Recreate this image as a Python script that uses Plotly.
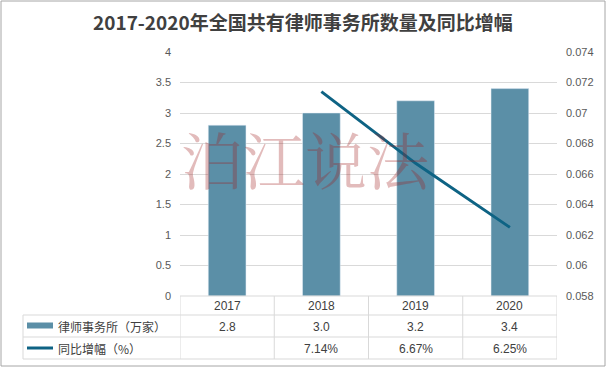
import plotly.graph_objects as go

years = ["2017", "2018", "2019", "2020"]
firms = [2.8, 3.0, 3.2, 3.4]            # 律师事务所（万家）
growth = [None, 7.14, 6.67, 6.25]       # 同比增幅（%）
left_ticks = [0, 0.5, 1, 1.5, 2, 2.5, 3, 3.5, 4]
right_ticks = [0.058, 0.06, 0.062, 0.064, 0.066, 0.068, 0.07, 0.072, 0.074]
title = "2017-2020年全国共有律师事务所数量及同比增幅"
series_names = ["律师事务所（万家）", "同比增幅（%）"]
watermark = "泊江说法"

W, H = 606, 367
L, R, T, B = 180, 557, 52, 296
BAR_C = "#5b8fa7"
LINE_C = "#0e6384"
GRID_C = "#d9d9d9"
TXT_C = "#404040"


def px(p):
    return (p - L) / (R - L)


def py(p):
    return (B - p) / (B - T)


fig = go.Figure()
fig.add_trace(go.Bar(x=years, y=firms, marker_color=BAR_C, width=0.4,
                     name=series_names[0], yaxis="y"))
fig.add_trace(go.Scatter(x=years, y=[g / 100 if g is not None else None for g in growth],
                         mode="lines", line=dict(color=LINE_C, width=3),
                         name=series_names[1], yaxis="y2"))

shapes = []
line_style = dict(color=GRID_C, width=1)
for yy in [315, 337, 359]:
    shapes.append(dict(type="line", xref="paper", yref="paper",
                       x0=px(23), x1=px(R), y0=py(yy), y1=py(yy), line=line_style, layer="above"))
shapes.append(dict(type="line", xref="paper", yref="paper",
                   x0=0, x1=1, y0=0, y1=0, line=line_style, layer="above"))
for i in range(len(years) + 1):
    shapes.append(dict(type="line", xref="x", yref="paper",
                       x0=i - 0.5, x1=i - 0.5, y0=py(296), y1=py(359), line=line_style, layer="above"))
shapes.append(dict(type="line", xref="paper", yref="paper",
                   x0=px(23), x1=px(23), y0=py(315), y1=py(359), line=line_style, layer="above"))
shapes.append(dict(type="rect", xref="paper", yref="paper",
                   x0=px(27), x1=px(53), y0=py(328.5), y1=py(322.5),
                   fillcolor=BAR_C, line=dict(width=0)))
shapes.append(dict(type="line", xref="paper", yref="paper",
                   x0=px(27), x1=px(53), y0=py(348), y1=py(348),
                   line=dict(color=LINE_C, width=3)))
shapes.append(dict(type="rect", xref="paper", yref="paper",
                   x0=px(1), x1=px(605), y0=py(366), y1=py(1),
                   line=dict(color="#a6a6a6", width=1)))

ann = []
cell_font = dict(family="Liberation Sans, Arial", size=12, color=TXT_C)
for i, yr in enumerate(years):
    ann.append(dict(x=i, y=py(306), xref="x", yref="paper", text=yr,
                    showarrow=False, xanchor="center", yanchor="middle", font=cell_font))
    ann.append(dict(x=i, y=py(326.5), xref="x", yref="paper", text=f"{firms[i]:.1f}",
                    showarrow=False, xanchor="center", yanchor="middle", font=cell_font))
    if growth[i] is not None:
        ann.append(dict(x=i, y=py(348.5), xref="x", yref="paper", text=f"{growth[i]:.2f}%",
                        showarrow=False, xanchor="center", yanchor="middle", font=cell_font))
leg_font = dict(family="Noto Sans CJK SC", size=12, color=TXT_C)
ann.append(dict(x=px(56), y=py(326), xref="paper", yref="paper", text=series_names[0],
                showarrow=False, xanchor="left", yanchor="middle", font=leg_font))
ann.append(dict(x=px(56), y=py(348), xref="paper", yref="paper", text=series_names[1],
                showarrow=False, xanchor="left", yanchor="middle", font=leg_font))
ann.append(dict(x=px(303), y=py(22), xref="paper", yref="paper", text="<b>" + title + "</b>",
                showarrow=False, xanchor="center", yanchor="middle",
                font=dict(family="Noto Sans CJK SC", size=19, color=TXT_C)))
ann.append(dict(x=px(305), y=py(158), xref="paper", yref="paper", text=watermark,
                showarrow=False, xanchor="center", yanchor="middle",
                font=dict(family="Noto Serif CJK SC, Noto Sans CJK SC", size=62,
                          color="rgba(160,30,30,0.3)")))

fig.update_layout(
    width=W, height=H,
    margin=dict(l=L, r=W - R, t=T, b=H - B),
    paper_bgcolor="white", plot_bgcolor="white",
    showlegend=False, bargap=0.6,
    xaxis=dict(type="category", range=[-0.5, 3.5], showticklabels=False,
               showgrid=False, zeroline=False, ticks=""),
    yaxis=dict(range=[0, 4], tickvals=left_ticks, showgrid=True, gridcolor=GRID_C,
               zeroline=False, ticks="", ticklabelstandoff=8,
               tickfont=dict(family="Liberation Sans, Arial", size=11, color="#595959")),
    yaxis2=dict(range=[0.058, 0.074], tickvals=right_ticks, overlaying="y", side="right",
                showgrid=False, zeroline=False, ticks="", ticklabelstandoff=8,
                tickfont=dict(family="Liberation Sans, Arial", size=11, color="#595959")),
    shapes=shapes, annotations=ann,
)
fig.write_html("out.html", config={"displayModeBar": False},
               post_script="document.body.style.margin='0';")
